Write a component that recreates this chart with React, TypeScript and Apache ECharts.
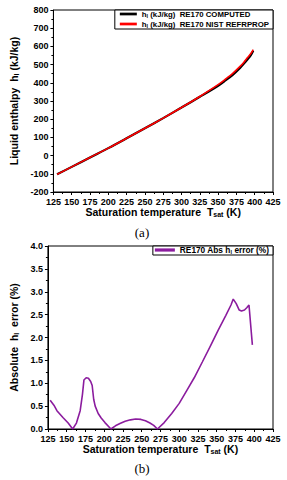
import React, { useEffect, useRef } from "react";
import * as echarts from "echarts";

const tempsH = [130, 150, 175, 200, 225, 250, 275, 300, 325, 350, 360, 370, 380, 385, 390, 395, 398];
const hComputed = [-103, -62, -10, 41, 95, 150, 206, 264, 323, 384, 413, 444, 482, 504, 528, 554, 576];
const hNist = [-103, -62, -10, 41, 95, 150, 206, 264, 325, 390, 420, 452, 490, 512, 537, 562, 582];

const tempsErr = [128, 133, 137, 145, 152, 158, 163, 168, 171, 173, 176, 179, 182, 184, 186, 188, 192, 196, 201, 209, 215, 221, 228, 235, 242, 249, 255, 261, 266, 271, 280, 290, 300, 310, 320, 331, 342, 352, 362, 369, 372, 376, 380, 383, 387, 390, 393, 397.5];
const errVals = [0.63, 0.52, 0.4, 0.25, 0.13, 0.0, 0.13, 0.4, 0.75, 1.07, 1.12, 1.11, 1.04, 0.95, 0.65, 0.5, 0.34, 0.24, 0.14, 0.0, 0.07, 0.12, 0.17, 0.2, 0.22, 0.21, 0.18, 0.13, 0.08, 0.0, 0.14, 0.34, 0.56, 0.84, 1.12, 1.47, 1.83, 2.16, 2.48, 2.71, 2.84, 2.74, 2.6, 2.58, 2.6, 2.65, 2.71, 1.84];

const xTickMin = 125;
const xTickMax = 425;
const xTickStep = 25;

const FONT = "Liberation Sans, Arial, sans-serif";
const BAR_ICON = "path://M0,0L50,0L50,8L0,8Z";

const zip = (xs: number[], ys: number[]) => xs.map((x, i) => [x, ys[i]]);

export default function App() {
  const ref = useRef<HTMLDivElement>(null);
  useEffect(() => {
    if (!ref.current) return;
    const chart = echarts.init(ref.current, null, { renderer: "svg" });
    const axisLabel = { color: "#000", fontSize: 9, fontWeight: "bold" as const, fontFamily: FONT };
    const axisLine = { show: true, onZero: false, lineStyle: { color: "#000", width: 1 } };
    const axisTick = { show: true, inside: false, length: 3, lineStyle: { color: "#000" } };
    const minorTick = { show: true, splitNumber: 2, length: 2, lineStyle: { color: "#000" } };
    const nameStyle = {
      color: "#000",
      fontSize: 10.5,
      fontWeight: "bold" as const,
      fontFamily: FONT,
      rich: {
        s: { fontSize: 7, fontWeight: "bold" as const, fontFamily: FONT, color: "#000", padding: [5, 0, 0, 0] },
      },
    };
    const xAxisCommon = (gridIndex: number) => ({
      type: "value" as const,
      gridIndex,
      min: xTickMin,
      max: xTickMax,
      interval: xTickStep,
      axisLine,
      axisTick,
      minorTick,
      splitLine: { show: false },
      axisLabel: { ...axisLabel, margin: 5 },
      name: "Saturation temperature  T{s|sat} (K)",
      nameLocation: "middle" as const,
      nameGap: 14,
      nameTextStyle: nameStyle,
    });
    const legendRich = {
      s: { fontSize: 5.5, fontWeight: "bold" as const, fontFamily: FONT, color: "#000", padding: [4, 0, 0, 0] },
    };
    const legendLabels: Record<string, string> = {
      comp: "h{s|l} (kJ/kg)  RE170 COMPUTED",
      nist: "h{s|l} (kJ/kg)  RE170 NIST REFRPROP",
      err: "RE170 Abs h{s|l} error (%)",
    };
    chart.setOption({
      animation: false,
      backgroundColor: "#fff",
      grid: [
        { left: 42, top: 10, width: 231, height: 182, show: true, borderColor: "#000", borderWidth: 1, backgroundColor: "transparent" },
        { left: 41, top: 246, width: 232, height: 183, show: true, borderColor: "#000", borderWidth: 1, backgroundColor: "transparent" },
      ],
      xAxis: [xAxisCommon(0), xAxisCommon(1)],
      yAxis: [
        {
          type: "value",
          gridIndex: 0,
          min: -200,
          max: 800,
          interval: 100,
          axisLine,
          axisTick,
          minorTick,
          splitLine: { show: false },
          axisLabel: { ...axisLabel, margin: 5 },
          name: "Liquid enthalpy  h{s|l} (kJ/kg)",
          nameLocation: "middle",
          nameGap: 25,
          nameRotate: 90,
          nameTextStyle: nameStyle,
        },
        {
          type: "value",
          gridIndex: 1,
          min: 0,
          max: 4,
          interval: 0.5,
          axisLine,
          axisTick,
          minorTick,
          splitLine: { show: false },
          axisLabel: { ...axisLabel, margin: 5, formatter: (v: number) => v.toFixed(1) },
          name: "Absolute  h{s|l}  error (%)",
          nameLocation: "middle",
          nameGap: 24,
          nameRotate: 90,
          nameTextStyle: nameStyle,
        },
      ],
      legend: [
        {
          data: ["comp", "nist"],
          orient: "vertical",
          right: 14,
          top: 10,
          padding: [0, 4, 0, 5],
          itemGap: 1,
          itemWidth: 17,
          itemHeight: 14,
          icon: BAR_ICON,
          borderColor: "#000",
          borderWidth: 1,
          backgroundColor: "#fff",
          formatter: (n: string) => legendLabels[n],
          textStyle: { color: "#000", fontSize: 7.8, fontWeight: "bold", fontFamily: FONT, rich: legendRich },
        },
        {
          data: ["err"],
          orient: "vertical",
          right: 14,
          top: 246,
          padding: [0, 4, 0, 2],
          itemWidth: 20,
          itemHeight: 12,
          icon: BAR_ICON,
          borderColor: "#000",
          borderWidth: 1,
          backgroundColor: "#fff",
          formatter: (n: string) => legendLabels[n],
          textStyle: { color: "#000", fontSize: 8.3, fontWeight: "bold", fontFamily: FONT, rich: legendRich },
        },
      ],
      series: [
        {
          name: "comp",
          type: "line",
          xAxisIndex: 0,
          yAxisIndex: 0,
          data: zip(tempsH, hComputed),
          symbol: "none",
          smooth: 0.3,
          color: "#000",
          lineStyle: { color: "#000", width: 2.2 },
        },
        {
          name: "nist",
          type: "line",
          xAxisIndex: 0,
          yAxisIndex: 0,
          data: zip(tempsH, hNist),
          symbol: "none",
          smooth: 0.3,
          color: "#ff0000",
          lineStyle: { color: "#ff0000", width: 1.6 },
        },
        {
          name: "err",
          type: "line",
          xAxisIndex: 1,
          yAxisIndex: 1,
          data: zip(tempsErr, errVals),
          symbol: "none",
          smooth: false,
          color: "#8B1C9E",
          lineStyle: { color: "#8B1C9E", width: 1.6 },
        },
      ],
      graphic: [
        { type: "text", x: 142, y: 232, style: { text: "(a)", fontSize: 13, fontFamily: "Liberation Serif, serif", align: "center", verticalAlign: "middle", fill: "#000" } },
        { type: "text", x: 142, y: 468, style: { text: "(b)", fontSize: 13, fontFamily: "Liberation Serif, serif", align: "center", verticalAlign: "middle", fill: "#000" } },
      ],
    });
    return () => chart.dispose();
  }, []);
  return <div ref={ref} style={{ position: "absolute", left: 0, top: 0, width: 287, height: 480, background: "#fff" }} />;
}
